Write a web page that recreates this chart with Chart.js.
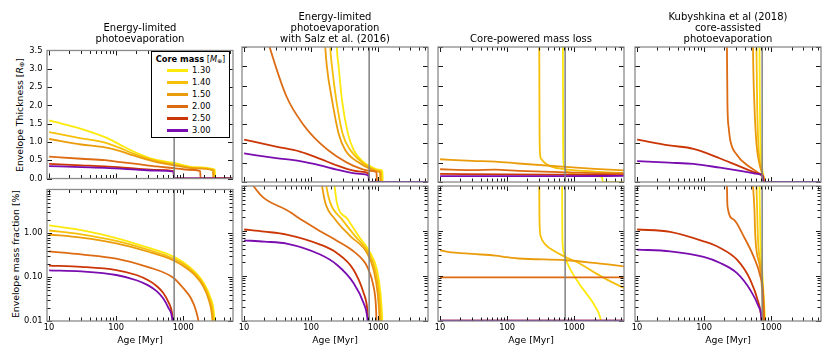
<!DOCTYPE html>
<html lang="en">
<head>
<meta charset="UTF-8" />
<title>Envelope evolution by mass-loss model</title>
<script src="https://cdn.jsdelivr.net/npm/chart.js"></script>
<style>
  body { margin: 0; background: #fff; font-family: "DejaVu Sans", sans-serif; color: #000; }
  #fig { position: relative; width: 830px; height: 356px; overflow: hidden; }
  #fig canvas { position: absolute; }
  .ttl { position: absolute; text-align: center; font-size: 10px; line-height: 11px; white-space: nowrap; }
  .ylab { position: absolute; font-size: 9.3px; white-space: nowrap; transform: translate(-50%, -50%) rotate(-90deg); }
  sub { font-size: 0.7em; vertical-align: -0.25em; line-height: 0; }
  #legend { position: absolute; left: 151px; top: 51px; width: 77px; height: 85px; border: 1px solid #000;
            background: #fff; font-size: 8.3px; z-index: 5; }
  #legend .lt { position: absolute; left: 0; right: 0; top: 2px; text-align: center; white-space: nowrap; }
  #legend .sw { position: absolute; left: 15px; width: 21px; height: 3px; }
  #legend .lb { position: absolute; left: 40px; line-height: 10px; }
</style>
</head>
<body>
<div id="fig">
  <div class="ylab" style="left:18.5px; top:114.5px">Envelope Thickness [<i>R</i><sub>⊕</sub>]</div>
  <div class="ylab" style="left:15px; top:253.5px">Envelope mass fraction [%]</div>
  <div id="legend"><div class="lt"><b>Core mass</b> [<i>M</i><sub>⊕</sub>]</div></div>
</div>

<script>
  // ---- data (age in Myr, value) ----
  const masses = ['1.30', '1.40', '1.50', '2.00', '2.50', '3.00'];
  const massColors = ['#fde90b', '#f6c00a', '#eb9c0c', '#dc6b13', '#cb3607', '#7a0db0'];
  const planetAge = 730;

  const panelTitles = [
    ['Energy-limited', 'photoevaporation'],
    ['Energy-limited', 'photoevaporation', 'with Salz et al. (2016)'],
    ['Core-powered mass loss'],
    ['Kubyshkina et al (2018)', 'core-assisted', 'photoevaporation']
  ];

  const xTicks = [10, 20, 30, 40, 50, 60, 70, 80, 90, 100, 200, 300, 400, 500, 600, 700, 800, 900,
                  1000, 2000, 3000, 4000, 5000];
  const xLabelled = [10, 100, 1000];
  const thickTicks = [0, 0.5, 1, 1.5, 2, 2.5, 3, 3.5];
  const fracTicks = [0.01, 0.02, 0.03, 0.04, 0.05, 0.06, 0.07, 0.08, 0.09,
                     0.1, 0.2, 0.3, 0.4, 0.5, 0.6, 0.7, 0.8, 0.9,
                     1, 2, 3, 4, 5, 6, 7, 8, 9, 10];
  const fracLabelled = [0.01, 0.1, 1];

  // energy-limited photoevaporation
  const elThick130 = [[10,1.59],[30,1.36],[68,1.13],[115,0.92],[181,0.74],[360,0.53],[760,0.42],[1500,0.31],[2950,0.245],[2990,0],[5500,0]];
  const elThick140 = [[10,1.27],[30,1.10],[68,0.98],[115,0.83],[181,0.68],[360,0.50],[760,0.38],[1500,0.29],[2860,0.235],[2900,0],[5500,0]];
  const elThick150 = [[10,1.08],[30,0.93],[68,0.85],[115,0.75],[181,0.63],[360,0.47],[760,0.355],[1500,0.28],[2760,0.225],[2800,0],[5500,0]];
  const elThick200 = [[10,0.60],[30,0.54],[68,0.50],[115,0.45],[200,0.40],[400,0.33],[760,0.28],[1200,0.24],[1780,0.205],[1810,0],[5500,0]];
  const elThick250 = [[10,0.40],[30,0.36],[68,0.33],[200,0.27],[400,0.235],[715,0.205],[728,0],[5500,0]];
  const elThick300 = [[10,0.34],[30,0.31],[68,0.29],[200,0.245],[400,0.215],[715,0.19],[728,0],[5500,0]];
  const elFrac130 = [[10,1.52],[30,1.18],[100,0.78],[300,0.47],[700,0.30],[1000,0.22],[1500,0.13],[2000,0.075],[2500,0.036],[2850,0.016],[3000,0.005]];
  const elFrac140 = [[10,1.16],[30,0.95],[100,0.67],[300,0.42],[700,0.27],[1000,0.20],[1500,0.12],[2000,0.068],[2450,0.033],[2760,0.015],[2900,0.005]];
  const elFrac150 = [[10,0.94],[30,0.80],[100,0.59],[300,0.38],[700,0.245],[1000,0.18],[1500,0.11],[2000,0.06],[2400,0.03],[2670,0.014],[2800,0.005]];
  const elFrac200 = [[10,0.386],[30,0.33],[100,0.265],[300,0.17],[700,0.098],[1000,0.056],[1300,0.033],[1550,0.017],[1700,0.009],[1800,0.004]];
  const elFrac250 = [[10,0.184],[30,0.172],[100,0.145],[200,0.112],[300,0.085],[400,0.063],[500,0.044],[600,0.027],[680,0.015],[728,0.005]];
  const elFrac300 = [[10,0.143],[30,0.135],[100,0.112],[200,0.085],[300,0.065],[400,0.048],[500,0.033],[600,0.02],[680,0.012],[728,0.004]];

  // energy-limited with Salz et al. (2016)
  const szThick130 = [[228,5],[241,3.5],[256,3.0],[287,2.13],[352,1.26],[429,0.83],[640,0.48],[760,0.41],[1000,0.32],[1150,0.29],[1165,0],[5500,0]];
  const szThick140 = [[180,5],[192,3.5],[204,3.0],[236,2.13],[293,1.26],[382,0.83],[604,0.48],[760,0.37],[1000,0.29],[1100,0.27],[1115,0],[5500,0]];
  const szThick150 = [[150,5],[162,3.5],[171,3.0],[204,2.13],[256,1.26],[321,0.83],[539,0.48],[760,0.34],[1000,0.27],[1060,0.25],[1075,0],[5500,0]];
  const szThick200 = [[10,6.2],[15,4.8],[24,3.5],[43,2.21],[77,1.48],[136,1.0],[241,0.66],[427,0.42],[760,0.29],[940,0.25],[955,0],[5500,0]];
  const szThick250 = [[10,1.10],[30,0.92],[68,0.79],[136,0.60],[241,0.43],[539,0.27],[715,0.22],[728,0],[5500,0]];
  const szThick300 = [[10,0.74],[30,0.62],[68,0.54],[136,0.43],[241,0.32],[539,0.21],[715,0.17],[728,0],[5500,0]];
  const szFrac130 = [[218,14],[223,10],[241,4.27],[352,1.81],[508,0.77],[760,0.325],[955,0.138],[1080,0.04],[1140,0.012],[1165,0.004]];
  const szFrac140 = [[163,14],[168,10],[192,4.27],[287,1.81],[452,0.77],[720,0.325],[900,0.138],[1030,0.04],[1090,0.012],[1115,0.004]];
  const szFrac150 = [[140,14],[145,10],[162,4.27],[228,1.81],[382,0.77],[680,0.325],[850,0.138],[980,0.04],[1040,0.012],[1075,0.004]];
  const szFrac200 = [[12,14],[13.8,10],[19.4,5.5],[43,2.92],[77,1.66],[136,0.99],[241,0.61],[427,0.355],[600,0.22],[680,0.164],[850,0.058],[920,0.022],[955,0.005]];
  const szFrac250 = [[10,1.08],[20,0.97],[43,0.835],[136,0.50],[241,0.325],[427,0.138],[604,0.042],[680,0.02],[728,0.005]];
  const szFrac300 = [[10,0.62],[20,0.58],[43,0.525],[136,0.30],[241,0.178],[427,0.07],[604,0.025],[680,0.013],[728,0.004]];

  // core-powered mass loss
  const cpThick130 = [[670,5],[676,3.5],[680,1.2],[688,0.55],[710,0.38],[780,0.27],[1200,0.19],[2000,0.15],[2600,0.13],[2650,0],[5500,0]];
  const cpThick140 = [[296,5],[300,3.5],[303,1.5],[307,0.78],[320,0.6],[372,0.48],[465,0.39],[740,0.33],[2000,0.27],[5500,0.23]];
  const cpThick150 = [[10,0.59],[30,0.55],[66,0.53],[148,0.48],[740,0.39],[2000,0.34],[5500,0.30]];
  const cpThick200 = [[10,0.33],[30,0.31],[66,0.32],[148,0.29],[740,0.25],[2000,0.23],[5500,0.22]];
  const cpThick250 = [[10,0.21],[100,0.20],[740,0.19],[5500,0.18]];
  const cpThick300 = [[10,0.15],[100,0.15],[740,0.15],[5500,0.16]];
  const cpFrac130 = [[655,14],[658,10],[661,1.5],[668,0.55],[700,0.33],[740,0.25],[828,0.164],[1167,0.069],[1845,0.027],[2350,0.014],[2650,0.007]];
  const cpFrac140 = [[297,14],[300,10],[302,2.5],[305,1.2],[320,0.72],[372,0.50],[500,0.36],[740,0.265],[1200,0.19],[2070,0.116],[3500,0.075],[5500,0.054]];
  const cpFrac150 = [[10,0.37],[13,0.345],[30,0.31],[66,0.284],[100,0.262],[148,0.245],[740,0.224],[2000,0.195],[5500,0.164]];
  const cpFrac200 = [[10,0.093],[5500,0.093]];
  const cpFrac250 = [[10,0.0102],[5500,0.0102]];
  const cpFrac300 = [[10,0.0102],[5500,0.0102]];

  // Kubyshkina et al. (2018) core-assisted photoevaporation
  const kbThick130 = [[655,5],[667,3.5],[675,2.0],[690,1.0],[715,0.5],[745,0.25],[775,0.1],[790,0],[5500,0]];
  const kbThick140 = [[590,5],[600,3.5],[615,2.0],[640,1.0],[680,0.5],[730,0.25],[772,0.1],[787,0],[5500,0]];
  const kbThick150 = [[525,5],[533,3.5],[560,2.0],[600,1.0],[660,0.5],[720,0.25],[770,0.1],[785,0],[5500,0]];
  const kbThick200 = [[216,5],[218,3.5],[222,2.0],[232,1.4],[244,1.09],[308,0.70],[434,0.44],[612,0.26],[720,0.16],[765,0.10],[778,0],[5500,0]];
  const kbThick250 = [[10,1.10],[30,0.95],[69,0.86],[173,0.61],[344,0.40],[686,0.21],[740,0.17],[752,0],[5500,0]];
  const kbThick300 = [[10,0.54],[30,0.50],[69,0.47],[173,0.37],[344,0.29],[686,0.20],[740,0.17],[750,0],[5500,0]];
  const kbFrac130 = [[655,14],[667,10],[675,3],[686,0.77],[730,0.138],[780,0.025],[830,0.005]];
  const kbFrac140 = [[590,14],[600,10],[615,3],[630,0.77],[710,0.138],[765,0.025],[805,0.005]];
  const kbFrac150 = [[520,14],[533,10],[560,3],[577,0.77],[686,0.138],[750,0.025],[790,0.005]];
  const kbFrac200 = [[216,14],[218,10],[222,3.58],[274,1.81],[386,0.77],[545,0.27],[686,0.098],[760,0.035],[790,0.005]];
  const kbFrac250 = [[10,1.08],[31,0.96],[98,0.59],[173,0.42],[308,0.23],[486,0.082],[646,0.025],[700,0.014],[740,0.005]];
  const kbFrac300 = [[10,0.386],[31,0.354],[98,0.265],[173,0.195],[308,0.116],[486,0.049],[646,0.021],[710,0.012],[735,0.004]];

  const thickSets = [
    [elThick130, elThick140, elThick150, elThick200, elThick250, elThick300],
    [szThick130, szThick140, szThick150, szThick200, szThick250, szThick300],
    [cpThick130, cpThick140, cpThick150, cpThick200, cpThick250, cpThick300],
    [kbThick130, kbThick140, kbThick150, kbThick200, kbThick250, kbThick300]
  ];
  const fracSets = [
    [elFrac130, elFrac140, elFrac150, elFrac200, elFrac250, elFrac300],
    [szFrac130, szFrac140, szFrac150, szFrac200, szFrac250, szFrac300],
    [cpFrac130, cpFrac140, cpFrac150, cpFrac200, cpFrac250, cpFrac300],
    [kbFrac130, kbFrac140, kbFrac150, kbFrac200, kbFrac250, kbFrac300]
  ];

  // ---- layout ----
  const FONT = '"DejaVu Sans", sans-serif';
  const panelLeft = [47, 242, 438, 635];
  const rowTop = [47, 186];
  const plotW = 186, plotH = 135;
  const yAxisW = 46, padTop = 6, padRight = 8;
  const xMin = 9.3, xMax = 5500;

  const fig = document.getElementById('fig');

  // inward ticks on all four sides, gray frame
  const framePlugin = {
    id: 'frame',
    afterDatasetsDraw(chart) {
      const { ctx, chartArea: a, scales: { x, y } } = chart;
      ctx.save();
      ctx.strokeStyle = '#000';
      ctx.lineWidth = 0.9;
      ctx.beginPath();
      x.ticks.forEach(t => {
        const p = Math.round(x.getPixelForValue(t.value)) + 0.5;
        if (p < a.left || p > a.right) return;
        const len = t.major ? 5 : 3.5;
        ctx.moveTo(p, a.top); ctx.lineTo(p, a.top + len);
        ctx.moveTo(p, a.bottom); ctx.lineTo(p, a.bottom - len);
      });
      y.ticks.forEach(t => {
        const p = Math.round(y.getPixelForValue(t.value)) + 0.5;
        const len = t.major ? 5 : 3.5;
        ctx.moveTo(a.left, p); ctx.lineTo(a.left + len, p);
        ctx.moveTo(a.right, p); ctx.lineTo(a.right - len, p);
      });
      ctx.stroke();
      ctx.strokeStyle = '#8a8a8a';
      ctx.lineWidth = 1.3;
      ctx.strokeRect(a.left, a.top, a.width, a.height);
      ctx.restore();
    }
  };

  function makeChart(col, row) {
    const xH = row === 0 ? 0 : 30;
    const padBottom = row === 0 ? 6 : 2;
    const cv = document.createElement('canvas');
    cv.width = yAxisW + plotW + padRight;
    cv.height = padTop + plotH + xH + padBottom;
    cv.style.left = (panelLeft[col] - yAxisW) + 'px';
    cv.style.top = (rowTop[row] - padTop) + 'px';
    fig.appendChild(cv);

    const series = row === 0 ? thickSets[col] : fracSets[col];
    const yMin = row === 0 ? 0 : 0.01;
    const yMax = row === 0 ? 3.5 : 10;

    const datasets = series.map((arr, i) => ({
      data: arr.map(([x, y]) => ({ x, y })),
      borderColor: massColors[i],
      borderWidth: 1.8,
      order: 10 - i
    }));
    datasets.push({
      data: [{ x: planetAge, y: yMin }, { x: planetAge, y: yMax }],
      borderColor: '#808080',
      borderWidth: 1.5,
      order: 0
    });

    const yScale = row === 0 ? {
      type: 'linear', min: 0, max: 3.5,
      afterBuildTicks: s => { s.ticks = thickTicks.map(v => ({ value: v, major: true })); },
      ticks: { display: col === 0, padding: 4.5, color: '#000', font: { family: FONT, size: 8.3 },
               callback: v => v.toFixed(1) }
    } : {
      type: 'logarithmic', min: 0.01, max: 10, bounds: 'data',
      afterBuildTicks: s => { s.ticks = fracTicks.map(v => ({ value: v, major: fracLabelled.includes(v) || v === 10 })); },
      ticks: { display: col === 0, padding: 4.5, color: '#000', font: { family: FONT, size: 8.3 }, autoSkip: false,
               callback: v => fracLabelled.includes(v) ? v.toFixed(2) : '' }
    };
    yScale.afterFit = s => { s.width = yAxisW; };
    yScale.grid = { display: false, drawTicks: false };
    yScale.border = { display: false };

    return new Chart(cv, {
      type: 'line',
      data: { datasets },
      options: {
        responsive: false,
        animation: false,
        events: [],
        layout: { padding: { top: padTop, right: padRight, bottom: padBottom, left: 0 } },
        plugins: { legend: { display: false }, tooltip: { enabled: false } },
        elements: { point: { radius: 0 }, line: { cubicInterpolationMode: 'monotone', fill: false } },
        scales: {
          x: {
            type: 'logarithmic', min: xMin, max: xMax, bounds: 'data',
            afterBuildTicks: s => { s.ticks = xTicks.map(v => ({ value: v, major: xLabelled.includes(v) })); },
            afterFit: s => { s.height = xH; },
            grid: { display: false, drawTicks: false },
            border: { display: false },
            ticks: { display: row === 1, autoSkip: false, maxRotation: 0, padding: 2, color: '#000',
                     font: { family: FONT, size: 8.3 },
                     callback: v => xLabelled.includes(v) ? String(v) : '' },
            title: { display: row === 1, text: 'Age [Myr]', color: '#000',
                     font: { family: FONT, size: 9.3 }, padding: { top: 0, bottom: 4.4 } }
          },
          y: yScale
        }
      },
      plugins: [framePlugin]
    });
  }

  for (let col = 0; col < 4; col++) {
    makeChart(col, 0);
    makeChart(col, 1);
    const t = document.createElement('div');
    t.className = 'ttl';
    t.style.left = panelLeft[col] + 'px';
    t.style.width = plotW + 'px';
    t.style.top = (38.3 - (panelTitles[col].length - 0.5) * 11) + 'px';
    t.innerHTML = panelTitles[col].join('<br>');
    fig.appendChild(t);
  }

  // legend
  const legend = document.getElementById('legend');
  masses.forEach((m, i) => {
    const cy = 18 + 12 * i;
    const sw = document.createElement('div');
    sw.className = 'sw';
    sw.style.top = (cy - 1.5) + 'px';
    sw.style.background = massColors[i];
    legend.appendChild(sw);
    const lb = document.createElement('div');
    lb.className = 'lb';
    lb.style.top = (cy - 5) + 'px';
    lb.textContent = m;
    legend.appendChild(lb);
  });
</script>
</body>
</html>
